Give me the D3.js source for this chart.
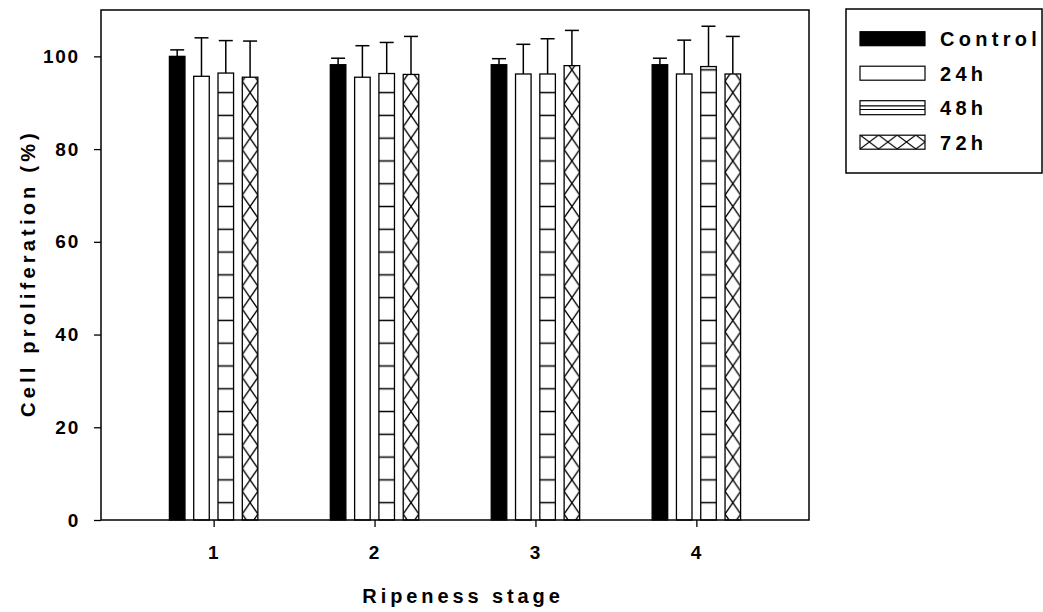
<!DOCTYPE html>
<html>
<head>
<meta charset="utf-8">
<title>Cell proliferation</title>
<script src="https://cdnjs.cloudflare.com/ajax/libs/d3/7.8.5/d3.min.js"></script>
<style>
  body { margin: 0; background: #fff; }
  svg { display: block; font-family: "Liberation Sans", Arial, sans-serif; font-weight: bold; }
</style>
</head>
<body>
<svg id="chart" width="1043" height="612"></svg>
<script>
// values
var stages = [1, 2, 3, 4];
var series = ["Control", "24h", "48h", "72h"];
var control = [100, 98.2, 98.2, 98.2];
var h24 = [95.7, 95.5, 96.2, 96.2];
var h48 = [96.4, 96.3, 96.2, 97.8];
var h72 = [95.5, 96.1, 98.0, 96.2];
var sdControl = [1.4, 1.4, 1.3, 1.4];
var sd24 = [8.3, 6.8, 6.4, 7.3];
var sd48 = [7.0, 6.7, 7.6, 8.7];
var sd72 = [7.8, 8.2, 7.6, 8.1];
var yTicks = [0, 20, 40, 60, 80, 100];

var means = [control, h24, h48, h72];
var sds = [sdControl, sd24, sd48, sd72];

var pL = 101, pR = 809, pT = 10, pB = 520;
var svg = d3.select("#chart");

var x = d3.scaleLinear().domain([0.3, 4.7]).range([pL, pR]);
var y = d3.scaleLinear().domain([0, 110]).range([pB, pT]);
// position of the bars inside a group
var xs = d3.scaleBand().domain(series).range([-48.6, 48.6]).paddingInner(0.36).paddingOuter(0.18);
var bw = xs.bandwidth();

// rows: one per bar
var rows = [];
stages.forEach(function(st, i) {
  series.forEach(function(s, j) {
    rows.push({stage: st, si: i, s: s, j: j, v: means[j][i], sd: sds[j][i]});
  });
});

var cell = 22.78, grid = 1.5;
var defs = svg.append("defs");
var hl = defs.append("pattern").attr("id", "hl")
  .attr("patternUnits", "userSpaceOnUse")
  .attr("x", 0).attr("y", grid - cell / 2).attr("width", 1043).attr("height", cell);
hl.append("rect").attr("width", 1043).attr("height", cell).attr("fill", "#fff");
hl.append("line").attr("x1", 0).attr("x2", 1043).attr("y1", cell / 2).attr("y2", cell / 2)
  .attr("stroke", "#000").attr("stroke-width", 1.3);

stages.forEach(function(st, i) {
  var bx = x(st) + xs("72h");
  var p = defs.append("pattern").attr("id", "xh" + i)
    .attr("patternUnits", "userSpaceOnUse")
    .attr("x", bx).attr("y", grid - cell / 2).attr("width", bw).attr("height", cell);
  p.append("rect").attr("width", bw).attr("height", cell).attr("fill", "#fff");
  p.append("path").attr("d", "M0,0L" + bw + "," + cell + "M" + bw + ",0L0," + cell)
    .attr("stroke", "#000").attr("stroke-width", 1.3).attr("fill", "none");
});

// legend patterns
var lp = defs.append("pattern").attr("id", "lx")
  .attr("patternUnits", "userSpaceOnUse")
  .attr("x", 860).attr("y", 135).attr("width", 18.6).attr("height", 14);
lp.append("rect").attr("width", 18.6).attr("height", 14).attr("fill", "#fff");
lp.append("path").attr("d", "M0,0L18.6,14M18.6,0L0,14")
  .attr("stroke", "#000").attr("stroke-width", 1.1).attr("fill", "none");

function fillOf(d) {
  if (d.s == "Control") return "#000";
  if (d.s == "24h") return "#fff";
  if (d.s == "48h") return "url(#hl)";
  return "url(#xh" + d.si + ")";
}

// error bars (upper only)
var eb = svg.append("g").attr("stroke", "#000").attr("stroke-width", 1.5);
eb.selectAll("line.v").data(rows).enter().append("line").attr("class", "v")
  .attr("x1", function(d) { return x(d.stage) + xs(d.s) + bw / 2; })
  .attr("x2", function(d) { return x(d.stage) + xs(d.s) + bw / 2; })
  .attr("y1", function(d) { return y(d.v); })
  .attr("y2", function(d) { return y(d.v + d.sd); });
eb.selectAll("line.c").data(rows).enter().append("line").attr("class", "c")
  .attr("x1", function(d) { return x(d.stage) + xs(d.s) + bw / 2 - 7; })
  .attr("x2", function(d) { return x(d.stage) + xs(d.s) + bw / 2 + 7; })
  .attr("y1", function(d) { return y(d.v + d.sd); })
  .attr("y2", function(d) { return y(d.v + d.sd); });

// bars
svg.append("g").selectAll("rect").data(rows).enter().append("rect")
  .attr("x", function(d) { return x(d.stage) + xs(d.s); })
  .attr("y", function(d) { return y(d.v); })
  .attr("width", bw)
  .attr("height", function(d) { return y(0) - y(d.v); })
  .attr("fill", fillOf)
  .attr("stroke", "#000").attr("stroke-width", 1.3);

// frame
svg.append("rect").attr("x", pL).attr("y", pT)
  .attr("width", pR - pL).attr("height", pB - pT)
  .attr("fill", "none").attr("stroke", "#000").attr("stroke-width", 1.5);

// axes
var ya = svg.append("g").attr("transform", "translate(" + pL + ",0)")
  .call(d3.axisLeft(y).tickValues(yTicks).tickSize(7).tickPadding(14).tickFormat(d3.format("d")));
var xa = svg.append("g").attr("transform", "translate(0," + pB + ")")
  .call(d3.axisBottom(x).tickValues(stages).tickSize(7).tickPadding(19).tickFormat(d3.format("d")));
[ya, xa].forEach(function(a) {
  a.select(".domain").remove();
  a.selectAll(".tick line").attr("stroke", "#000").attr("stroke-width", 1.3);
  a.selectAll(".tick text").attr("fill", "#000")
    .style("font-family", "'Liberation Sans', Arial, sans-serif")
    .style("font-weight", "bold").style("font-size", "19px").style("letter-spacing", "1.8px");
});

// axis titles
svg.append("text").attr("x", 463).attr("y", 603)
  .attr("text-anchor", "middle").style("font-size", "20px").style("letter-spacing", "3.9px")
  .text("Ripeness stage");
svg.append("text").attr("transform", "translate(35,273) rotate(-90)")
  .attr("text-anchor", "middle").style("font-size", "20px").style("letter-spacing", "4.2px")
  .text("Cell proliferation (%)");

// legend
var lg = svg.append("g");
lg.append("rect").attr("x", 846).attr("y", 9).attr("width", 196).attr("height", 164)
  .attr("fill", "#fff").attr("stroke", "#000").attr("stroke-width", 1.5);
var ly = d3.scalePoint().domain(series).range([38.7, 142.2]);
var li = lg.selectAll("g.it").data(series).enter().append("g").attr("class", "it");
li.append("rect").attr("x", 860).attr("y", function(d) { return ly(d) - 7; })
  .attr("width", 65).attr("height", 14)
  .attr("fill", function(d) { return d == "Control" ? "#000" : d == "72h" ? "url(#lx)" : "#fff"; })
  .attr("stroke", "#000").attr("stroke-width", 1.2);
li.filter(function(d) { return d == "48h"; }).selectAll("line").data([-1.8, 1.8]).enter().append("line")
  .attr("x1", 860).attr("x2", 925)
  .attr("y1", function(o) { return ly("48h") + o; }).attr("y2", function(o) { return ly("48h") + o; })
  .attr("stroke", "#000").attr("stroke-width", 1.1);
li.append("text").attr("x", 940).attr("y", function(d) { return ly(d) + 7.5; })
  .style("font-size", "20px").style("letter-spacing", "4.3px")
  .text(function(d) { return d; });
</script>
</body>
</html>
